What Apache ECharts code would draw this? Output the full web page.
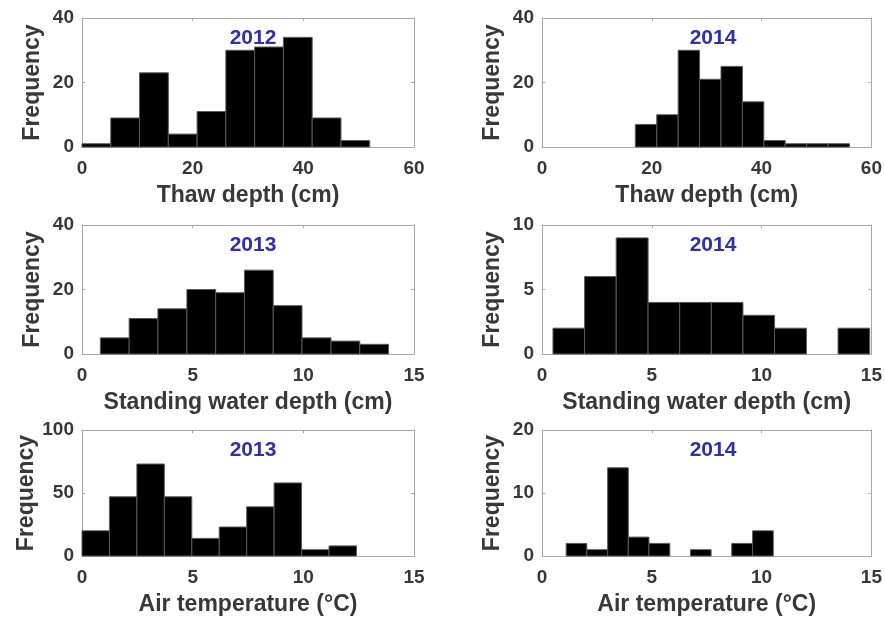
<!DOCTYPE html>
<html><head><meta charset="utf-8">
<script src="https://cdn.jsdelivr.net/npm/echarts@6/dist/echarts.min.js"></script>
<style>html,body{margin:0;padding:0;background:#fff}#c{width:885px;height:617px}</style>
</head><body><div id="c"></div>
<script>
// Panel titles and axis names
const panelTitles = ['2012', '2014', '2013', '2014', '2013', '2014'];
const xNames = ['Thaw depth (cm)', 'Thaw depth (cm)', 'Standing water depth (cm)', 'Standing water depth (cm)', 'Air temperature (°C)', 'Air temperature (°C)'];
const yName = 'Frequency';

// Bin edges and counts
const thaw2012Edges = [0, 5.2, 10.4, 15.6, 20.8, 26, 31.2, 36.4, 41.6, 46.8, 52];
const thaw2012Counts = [1, 9, 23, 4, 11, 30, 31, 34, 9, 2];
const thaw2014Edges = [17, 20.9, 24.8, 28.7, 32.6, 36.5, 40.4, 44.3, 48.2, 52.1, 56];
const thaw2014Counts = [7, 10, 30, 21, 25, 14, 2, 1, 1, 1];
const water2013Edges = [0.83, 2.13, 3.43, 4.74, 6.04, 7.34, 8.64, 9.94, 11.25, 12.55, 13.85];
const water2013Counts = [5, 11, 14, 20, 19, 26, 15, 5, 4, 3];
const water2014Edges = [0.5, 1.94, 3.38, 4.83, 6.27, 7.71, 9.15, 10.59, 12.04, 13.48, 14.92];
const water2014Counts = [2, 6, 9, 4, 4, 4, 3, 2, 0, 2];
const air2013Edges = [0, 1.24, 2.48, 3.72, 4.96, 6.2, 7.44, 8.68, 9.92, 11.16, 12.4];
const air2013Counts = [20, 47, 73, 47, 14, 23, 39, 58, 5, 8];
const air2014Edges = [1.1, 2.04, 2.99, 3.93, 4.87, 5.82, 6.76, 7.70, 8.64, 9.59, 10.53];
const air2014Counts = [2, 1, 14, 3, 2, 0, 1, 0, 2, 4];

// Axis ranges / ticks
const xMax = [60, 60, 15, 15, 15, 15];
const xInterval = [20, 20, 5, 5, 5, 5];
const yMax = [40, 40, 40, 10, 100, 20];
const yInterval = [20, 20, 20, 5, 50, 10];

const edgesList = [thaw2012Edges, thaw2014Edges, water2013Edges, water2014Edges, air2013Edges, air2014Edges];
const countsList = [thaw2012Counts, thaw2014Counts, water2013Counts, water2014Counts, air2013Counts, air2014Counts];

const FONT = "'Liberation Sans', Arial, Helvetica, sans-serif";
const TXT = '#383838';
const BOX = '#a8a8a8';

const grids = [
  {left: 82, top: 18, width: 332, height: 129},
  {left: 542, top: 18, width: 332, height: 129},
  {left: 82, top: 225, width: 332, height: 129},
  {left: 542, top: 225, width: 332, height: 129},
  {left: 82, top: 430, width: 332, height: 132},
  {left: 542, top: 430, width: 332, height: 132}
];

const xAxes = [], yAxes = [], series = [], titles = [];
grids.forEach((g, i) => {
  xAxes.push({
    type: 'value', gridIndex: i, min: 0, max: xMax[i], interval: xInterval[i],
    position: 'bottom',
    name: xNames[i], nameLocation: 'middle', nameGap: 37,
    nameTextStyle: {fontFamily: FONT, fontWeight: 'bold', fontSize: 23, color: TXT},
    axisLine: {show: true, onZero: false, lineStyle: {color: BOX, width: 1}},
    axisTick: {show: true, inside: true, length: 3, lineStyle: {color: BOX}},
    axisLabel: {fontFamily: FONT, fontWeight: 'bold', fontSize: 19, color: TXT, margin: 12},
    splitLine: {show: false}
  });
  xAxes.push({
    type: 'value', gridIndex: i, min: 0, max: xMax[i], interval: xInterval[i],
    position: 'top',
    axisLine: {show: true, onZero: false, lineStyle: {color: BOX, width: 1}},
    axisTick: {show: true, inside: true, length: 3, lineStyle: {color: BOX}},
    axisLabel: {show: false}, splitLine: {show: false}
  });
  yAxes.push({
    type: 'value', gridIndex: i, min: 0, max: yMax[i], interval: yInterval[i],
    position: 'left',
    name: yName, nameLocation: 'middle', nameGap: 38, nameRotate: 90,
    nameTextStyle: {fontFamily: FONT, fontWeight: 'bold', fontSize: 23, color: TXT},
    axisLine: {show: true, onZero: false, lineStyle: {color: BOX, width: 1}},
    axisTick: {show: true, inside: true, length: 3, lineStyle: {color: BOX}},
    axisLabel: {fontFamily: FONT, fontWeight: 'bold', fontSize: 19, color: TXT, margin: 8},
    splitLine: {show: false}
  });
  yAxes.push({
    type: 'value', gridIndex: i, min: 0, max: yMax[i], interval: yInterval[i],
    position: 'right',
    axisLine: {show: true, onZero: false, lineStyle: {color: BOX, width: 1}},
    axisTick: {show: true, inside: true, length: 3, lineStyle: {color: BOX}},
    axisLabel: {show: false}, splitLine: {show: false}
  });
  const e = edgesList[i], c = countsList[i];
  const data = c.map((v, k) => [e[k], e[k + 1], v]);
  series.push({
    type: 'custom', xAxisIndex: 2 * i, yAxisIndex: 2 * i,
    data: data,
    encode: {x: [0, 1], y: 2},
    renderItem: function (params, api) {
      const h = api.value(2);
      if (!h) return null;
      const p0 = api.coord([api.value(0), 0]);
      const p1 = api.coord([api.value(1), h]);
      return {
        type: 'rect',
        shape: {x: p0[0], y: p1[1], width: p1[0] - p0[0], height: p0[1] - p1[1]},
        style: {fill: '#000', stroke: '#5a5a5a', lineWidth: 1}
      };
    },
    silent: true, animation: false
  });
  titles.push({
    text: panelTitles[i], left: g.left + g.width / 2, top: g.top + 5, textAlign: 'center',
    textStyle: {fontFamily: FONT, fontWeight: 'bold', fontSize: 21, color: '#2f2fb0'}
  });
});

const chart = echarts.init(document.getElementById('c'), null, {renderer: 'canvas'});
chart.setOption({
  animation: false,
  backgroundColor: '#fff',
  title: titles,
  grid: grids,
  xAxis: xAxes,
  yAxis: yAxes,
  series: series
});
</script></body></html>
